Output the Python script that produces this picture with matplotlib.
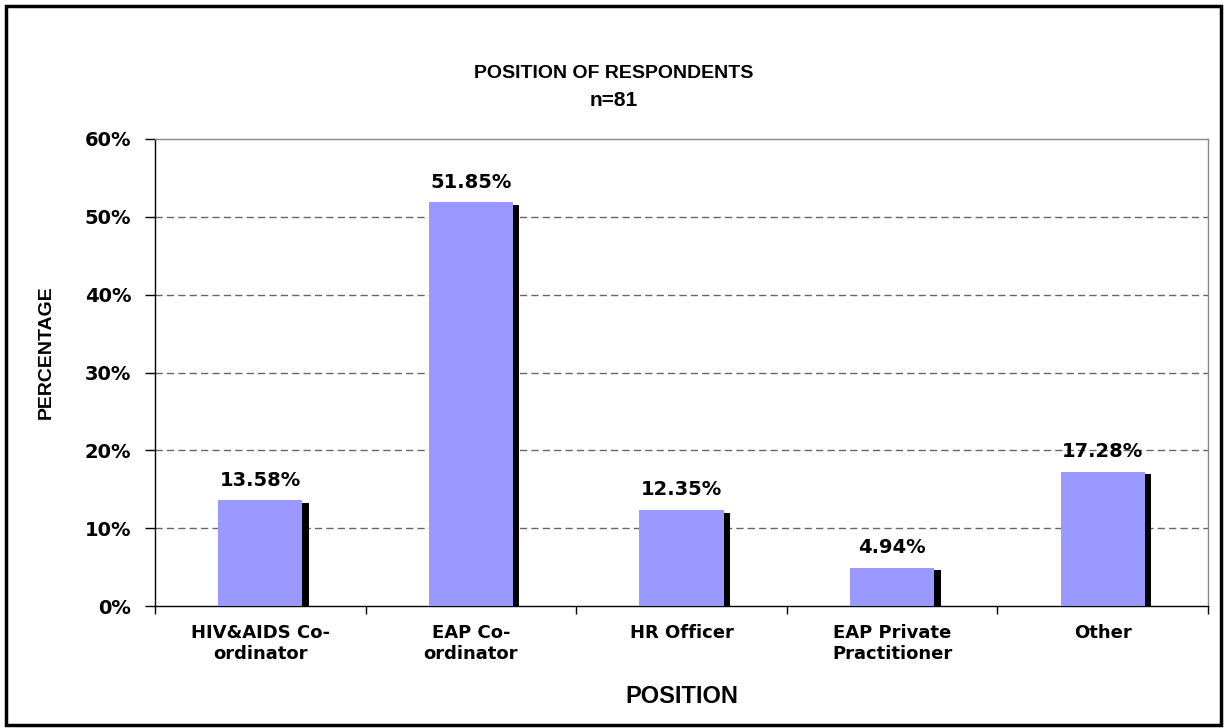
import matplotlib
matplotlib.use("Agg")
import matplotlib.pyplot as plt
from matplotlib import font_manager
from matplotlib.patches import Rectangle
from matplotlib.ticker import FuncFormatter

# Data
categories = ["HIV&AIDS Co-\nordinator", "EAP Co-\nordinator", "HR Officer",
              "EAP Private\nPractitioner", "Other"]
percentages = [13.58, 51.85, 12.35, 4.94, 17.28]
value_labels = ["13.58%", "51.85%", "12.35%", "4.94%", "17.28%"]
y_ticks = [0, 10, 20, 30, 40, 50, 60]

BAR_COLOR = "#9999FF"
BAR_WIDTH = 0.40
SHADOW_DX = 0.03   # shadow offset to the right (category units)
SHADOW_DY = 0.35   # shadow offset downward (percent units)

# condensed face for the rotated axis label, if it is installed
names = {f.name for f in font_manager.fontManager.ttflist}
NARROW = "Liberation Sans Narrow" if "Liberation Sans Narrow" in names else "Liberation Sans"

W, H = 1228, 728
fig = plt.figure(figsize=(W / 100, H / 100), dpi=100)
ax = fig.add_axes([155 / W, 1 - 606 / H, (1208 - 155) / W, (606 - 139) / H])

x = list(range(len(categories)))

# Black drop shadow behind each bar, then the bar itself
ax.bar([i + SHADOW_DX for i in x], [v - SHADOW_DY for v in percentages],
       width=BAR_WIDTH, color="black", zorder=2)
ax.bar(x, percentages, width=BAR_WIDTH, color=BAR_COLOR, zorder=3)

for i, (v, lab) in enumerate(zip(percentages, value_labels)):
    ax.annotate(lab, (i, v), xytext=(0, 7.5), textcoords="offset points",
                ha="center", va="bottom", fontsize=14, fontweight="bold",
                family="DejaVu Sans", zorder=4)

ax.set_xlim(-0.5, len(categories) - 0.5)
ax.set_ylim(0, 60)
ax.set_yticks(y_ticks)
ax.yaxis.set_major_formatter(FuncFormatter(lambda v, p: f"{v:.0f}%"))

# Category ticks sit between the bars, labels under the bars
ax.set_xticks([i - 0.5 for i in range(len(categories) + 1)])
ax.set_xticklabels([])
ax.set_xticks(x, minor=True)
ax.set_xticklabels(categories, minor=True, fontsize=13, fontweight="bold",
                   family="DejaVu Sans", linespacing=1.2)
ax.tick_params(axis="x", which="minor", length=0, pad=13)
ax.tick_params(axis="x", which="major", length=6, width=1, direction="out")
ax.tick_params(axis="y", length=7, width=1, direction="out", pad=10,
               labelsize=14)
for t in ax.get_yticklabels():
    t.set_fontweight("bold")
    t.set_family("DejaVu Sans")

# Dashed horizontal gridlines
for yv in y_ticks[1:-1]:
    ax.axhline(yv, color="#666666", linestyle=(0, (5.2, 3)), linewidth=1, zorder=1)

ax.spines["left"].set_color("black")
ax.spines["bottom"].set_color("black")
ax.spines["top"].set_color("#888888")
ax.spines["right"].set_color("#888888")
for s in ax.spines.values():
    s.set_linewidth(1)

fig.text(46 / W, 1 - 352 / H, "PERCENTAGE", rotation=90, ha="center", va="center",
         fontsize=14, fontweight="bold", family=NARROW)
ax.set_xlabel("POSITION", fontsize=17, fontweight="bold",
              family="Liberation Sans", labelpad=16)

fig.text(0.5, 1 - 73 / H, "POSITION OF RESPONDENTS", ha="center", va="center",
         fontsize=14, fontweight="bold", family="Liberation Sans")
fig.text(0.5, 1 - 101 / H, "n=81", ha="center", va="center",
         fontsize=15, fontweight="bold", family="Liberation Sans")

# Outer chart frame
fig.patches.append(Rectangle((6 / W, 3 / H), 1215 / W, 719 / H,
                             transform=fig.transFigure, fill=False,
                             edgecolor="black", linewidth=2.5))

fig.savefig("out.png", dpi=100)
